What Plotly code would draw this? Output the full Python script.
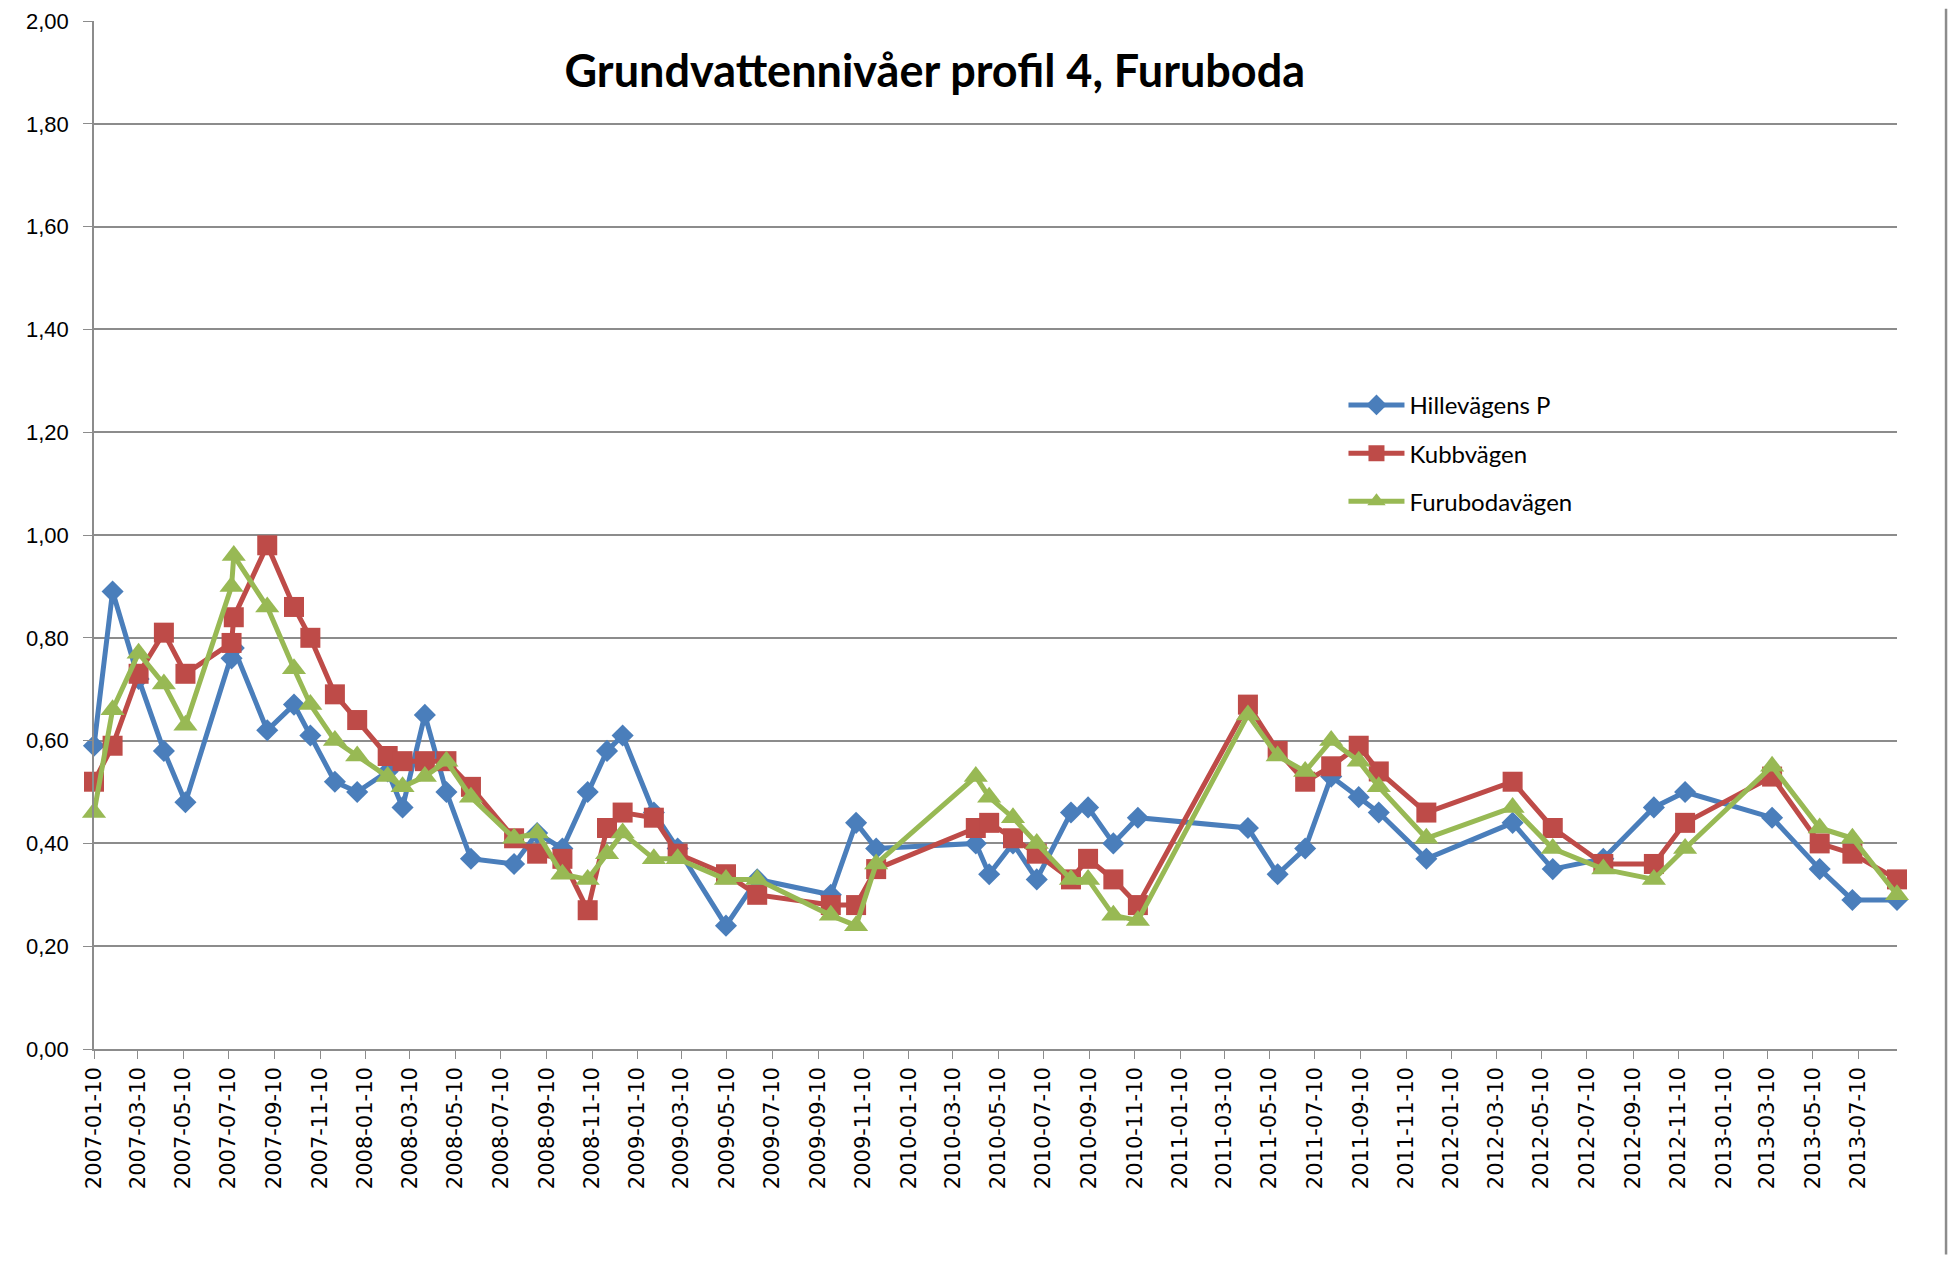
import plotly.graph_objects as go

# mätdatum (gemensamma för alla tre rör)
dates = ["2007-01-10", "2007-02-04", "2007-03-11", "2007-04-14", "2007-05-13",
         "2007-07-14", "2007-07-17", "2007-08-31", "2007-10-06", "2007-10-28",
         "2007-11-30", "2007-12-30", "2008-02-09", "2008-02-29", "2008-03-30",
         "2008-04-28", "2008-05-31", "2008-07-28", "2008-08-28", "2008-10-01",
         "2008-11-04", "2008-11-30", "2008-12-21", "2009-02-01", "2009-03-05",
         "2009-05-09", "2009-06-20", "2009-09-27", "2009-10-31", "2009-11-27",
         "2010-04-10", "2010-04-28", "2010-05-30", "2010-07-01", "2010-08-16",
         "2010-09-08", "2010-10-12", "2010-11-14", "2011-04-11", "2011-05-21",
         "2011-06-27", "2011-08-01", "2011-09-07", "2011-10-04", "2011-12-07",
         "2012-04-01", "2012-05-25", "2012-08-01", "2012-10-08", "2012-11-19",
         "2013-03-16", "2013-05-19", "2013-07-02", "2013-08-31"]

hillevagen = [0.59, 0.89, 0.72, 0.58, 0.48, 0.76, 0.78, 0.62, 0.67, 0.61,
              0.52, 0.50, 0.54, 0.47, 0.65, 0.50, 0.37, 0.36, 0.42, 0.39,
              0.50, 0.58, 0.61, 0.46, 0.39, 0.24, 0.33, 0.30, 0.44, 0.39,
              0.40, 0.34, 0.40, 0.33, 0.46, 0.47, 0.40, 0.45, 0.43, 0.34,
              0.39, 0.53, 0.49, 0.46, 0.37, 0.44, 0.35, 0.37, 0.47, 0.50,
              0.45, 0.35, 0.29, 0.29]

kubbvagen = [0.52, 0.59, 0.73, 0.81, 0.73, 0.79, 0.84, 0.98, 0.86, 0.80,
             0.69, 0.64, 0.57, 0.56, 0.56, 0.56, 0.51, 0.41, 0.38, 0.37,
             0.27, 0.43, 0.46, 0.45, 0.38, 0.34, 0.30, 0.28, 0.28, 0.35,
             0.43, 0.44, 0.41, 0.38, 0.33, 0.37, 0.33, 0.28, 0.67, 0.58,
             0.52, 0.55, 0.59, 0.54, 0.46, 0.52, 0.43, 0.36, 0.36, 0.44,
             0.53, 0.40, 0.38, 0.33]

furubodavagen = [0.46, 0.66, 0.77, 0.71, 0.63, 0.90, 0.96, 0.86, 0.74, 0.67,
                 0.60, 0.57, 0.53, 0.51, 0.53, 0.56, 0.49, 0.41, 0.42, 0.34,
                 0.33, 0.38, 0.42, 0.37, 0.37, 0.33, 0.33, 0.26, 0.24, 0.36,
                 0.53, 0.49, 0.45, 0.40, 0.33, 0.33, 0.26, 0.25, 0.65, 0.57,
                 0.54, 0.60, 0.56, 0.51, 0.41, 0.47, 0.39, 0.35, 0.33, 0.39,
                 0.55, 0.43, 0.41, 0.30]

series = [("Hillevägens P", hillevagen, "#4A7EBB", "diamond", 17),
          ("Kubbvägen", kubbvagen, "#BE4B48", "square", 20),
          ("Furubodavägen", furubodavagen, "#98B954", "triangle-up", 21)]

fig = go.Figure()
for name, vals, col, sym, sz in series:
    fig.add_trace(go.Scatter(x=dates, y=vals, name=name, mode="lines+markers",
                             legendgroup=name,
                             line=dict(color=col, width=5),
                             marker=dict(symbol=sym, size=sz, color=col),
                             cliponaxis=False))

# sidan har 8 px marginal runt figuren
fig.update_layout(
    width=1943, height=1247,
    margin=dict(l=86, r=54, t=13, b=206, autoexpand=False),
    paper_bgcolor="white", plot_bgcolor="white",
    separators=", ",
    showlegend=True,
    title=dict(text="<b>Grundvattennivåer profil 4, Furuboda</b>",
               x=0.477, xanchor="center", y=0.9495, yanchor="middle",
               font=dict(family="Lato", size=45, color="black")),
    legend=dict(x=0.693, y=0.648, xanchor="left", yanchor="top",
                font=dict(family="Lato", size=24, color="black"),
                itemwidth=56, tracegroupgap=14, bgcolor="rgba(0,0,0,0)"),
    font=dict(family="Lato", color="black"),
)

fig.update_yaxes(range=[0, 2], dtick=0.2, tickformat=".2f", automargin=False,
                 showgrid=True, gridcolor="#8C8C8C", gridwidth=1.5,
                 showline=True, linecolor="#8C8C8C", linewidth=1.5,
                 ticks="outside", ticklen=9, tickcolor="#8C8C8C",
                 ticklabelstandoff=10, ticklabeloverflow="allow",
                 tickfont=dict(family="Liberation Sans", size=22, color="black"),
                 zeroline=False)

fig.update_xaxes(type="date", range=["2007-01-10", "2013-08-31"],
                 tick0="2007-01-10", dtick="M2", tickformat="%Y-%m-%d",
                 tickangle=-90, showgrid=False, automargin=False,
                 showline=True, linecolor="#8C8C8C", linewidth=1.5,
                 ticks="outside", ticklen=8, tickcolor="#8C8C8C",
                 tickfont=dict(family="DejaVu Sans", size=21, color="black"))

# ram till höger om diagramytan
fig.add_shape(type="line", xref="paper", yref="paper",
              x0=1.0272, x1=1.0272, y0=-0.2, y1=1.012,
              line=dict(color="#8C8C8C", width=2.5))

fig.write_html("out.html")
